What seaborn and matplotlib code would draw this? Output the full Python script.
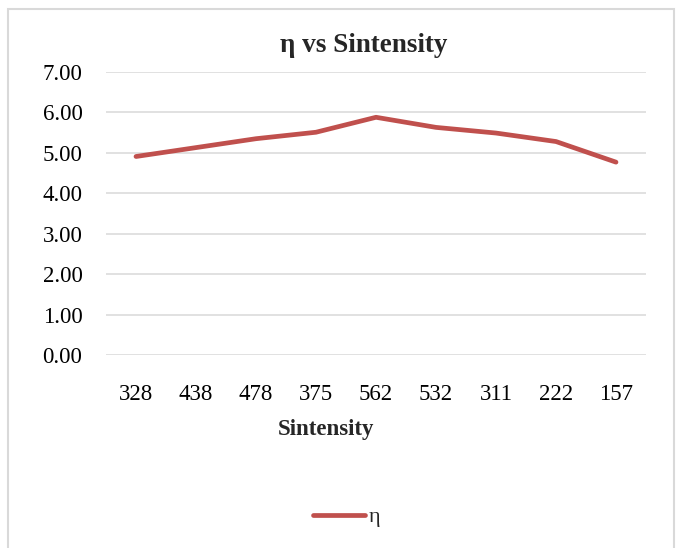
import seaborn as sns
import pandas as pd
import matplotlib.pyplot as plt
from matplotlib.patches import Rectangle

sintensity=['328','438','478','375','562','532','311','222','157']
eta=[4.91,5.13,5.35,5.51,5.88,5.63,5.49,5.28,4.77]

df=pd.DataFrame({'Sintensity':sintensity,'eta':eta})

sns.set_theme(style='white')
plt.rcParams['font.family']=['Liberation Serif','DejaVu Serif']

fig=plt.figure(figsize=(6.78,5.48),dpi=100)
ax=fig.add_axes([106/678,1-355/548,540/678,283/548])

sns.lineplot(data=df,x='Sintensity',y='eta',sort=False,color='#C0504D',
             linewidth=3.4,label='η',ax=ax,solid_capstyle='round')

ax.set_xlim(-0.5,len(sintensity)-0.5)
ax.set_ylim(0,7)
ax.set_yticks([0,1,2,3,4,5,6,7])
ax.set_yticklabels(['%.2f'%v for v in range(8)])
ax.yaxis.grid(True,color='#d9d9d9',linewidth=1.1)
ax.set_axisbelow(True)
for s in ax.spines.values():
    s.set_visible(False)
ax.tick_params(axis='both',length=0,labelsize=16.5,colors='black')
ax.tick_params(axis='y',pad=17)
ax.tick_params(axis='x',pad=21)
ax.set_xlabel('')
ax.set_ylabel('')

fig.text(364/678,1-46/548,'η vs Sintensity',ha='center',va='center',
         fontsize=19.5,fontweight='bold')
fig.text(326/678,1-430/548,'Sintensity',ha='center',va='center',
         fontsize=16.5,fontweight='bold')

ax.get_legend().remove()
fig.legend(loc='center',bbox_to_anchor=(347/678,1-517/548),frameon=False,
           fontsize=16,handlelength=2.3,handletextpad=0.2)

fig.patches.append(Rectangle((8/678,-0.02),666/678,1.02-9/548,
                             transform=fig.transFigure,fill=False,
                             edgecolor='#d9d9d9',linewidth=1.5))

fig.savefig('out.png',dpi=100)
